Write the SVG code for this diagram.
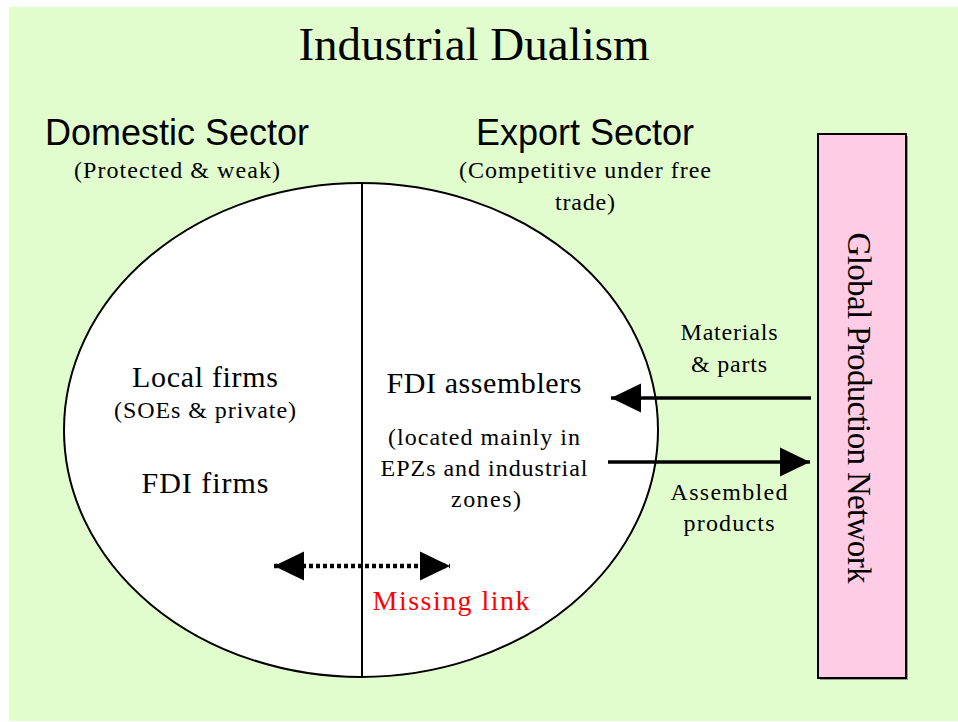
<svg xmlns="http://www.w3.org/2000/svg" width="958" height="722" viewBox="0 0 958 722">
<style>
.serif{font-family:"Liberation Serif","Times New Roman",serif;fill:#000;text-anchor:middle}
.sans{font-family:"Liberation Sans",Arial,sans-serif;fill:#000;text-anchor:middle}
.conn{stroke:#000;stroke-width:3.5;fill:none}
</style>
<defs>
<marker id="ah" markerUnits="userSpaceOnUse" markerWidth="30" markerHeight="30" viewBox="0 0 29 28" refX="29" refY="14" orient="auto-start-reverse">
<path d="M0,0 L29,14 L0,28 Z" fill="#000"/>
</marker>
</defs>
<rect x="9" y="7" width="949" height="714" fill="#E1FDCD"/>
<text class="serif" x="474" y="60" font-size="47">Industrial Dualism</text>
<g id="economy">
<ellipse cx="361" cy="430" rx="297" ry="247" fill="#fff" stroke="#000" stroke-width="2"/>
<line x1="362" y1="183" x2="362" y2="677" stroke="#000" stroke-width="2"/>
</g>
<g id="domestic">
<text class="sans" x="177" y="145" font-size="36">Domestic Sector</text>
<text class="serif" x="177" y="178" font-size="24" textLength="206" lengthAdjust="spacing">(Protected &amp; weak)</text>
<text class="serif" x="205" y="387" font-size="30" textLength="146" lengthAdjust="spacing">Local firms</text>
<text class="serif" x="205" y="418" font-size="24" textLength="182" lengthAdjust="spacing">(SOEs &amp; private)</text>
<text class="serif" x="205" y="493" font-size="30" textLength="127" lengthAdjust="spacing">FDI firms</text>
</g>
<g id="export">
<text class="sans" x="585" y="145" font-size="36">Export Sector</text>
<text class="serif" x="585" y="178" font-size="24" textLength="252" lengthAdjust="spacing">(Competitive under free</text>
<text class="serif" x="585" y="210" font-size="24" textLength="60" lengthAdjust="spacing">trade)</text>
<text class="serif" x="484" y="393" font-size="30" textLength="195" lengthAdjust="spacing">FDI assemblers</text>
<text class="serif" x="484" y="445" font-size="24" textLength="192" lengthAdjust="spacing">(located mainly in</text>
<text class="serif" x="484" y="476" font-size="24" textLength="207" lengthAdjust="spacing">EPZs and industrial</text>
<text class="serif" x="486" y="507" font-size="24" textLength="70" lengthAdjust="spacing">zones)</text>
</g>
<g id="gpn">
<rect x="820" y="136" width="88" height="544" fill="#999"/>
<rect x="818" y="134" width="88" height="544" fill="#FFCCE5" stroke="#000" stroke-width="2"/>
<text class="serif" font-size="33" textLength="351" lengthAdjust="spacing" transform="translate(848 408) rotate(90)">Global Production Network</text>
</g>
<g id="connectors">
<line class="conn" x1="811" y1="398" x2="611" y2="398" marker-end="url(#ah)"/>
<line class="conn" x1="608" y1="462" x2="810" y2="462" marker-end="url(#ah)"/>
<line x1="274" y1="566" x2="450" y2="566" stroke="#000" stroke-width="4.5" stroke-dasharray="4 3" marker-start="url(#ah)" marker-end="url(#ah)"/>
<text class="serif" x="729" y="340" font-size="24" textLength="97" lengthAdjust="spacing">Materials</text>
<text class="serif" x="729" y="372" font-size="24" textLength="76" lengthAdjust="spacing">&amp; parts</text>
<text class="serif" x="729" y="500" font-size="24" textLength="117" lengthAdjust="spacing">Assembled</text>
<text class="serif" x="729" y="531" font-size="24" textLength="91" lengthAdjust="spacing">products</text>
<text class="serif" x="451" y="610" font-size="28" textLength="157" lengthAdjust="spacing" style="fill:#FF0000">Missing link</text>
</g>
</svg>
